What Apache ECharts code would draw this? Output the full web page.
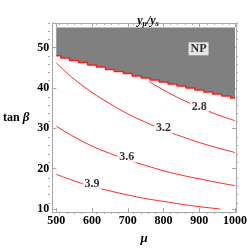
<!DOCTYPE html>
<html>
<head>
<meta charset="utf-8">
<style>html,body{margin:0;padding:0;background:#fff}#c{width:250px;height:250px}</style>
<script src="https://cdn.jsdelivr.net/npm/echarts@6/dist/echarts.min.js"></script>
</head>
<body>
<div id="c"></div>
<script>
// ---- data ----
const xTicks = [500, 600, 700, 800, 900, 1000];
const xMinor = [520,540,560,580,620,640,660,680,720,740,760,780,820,840,860,880,920,940,960,980];
const yTicks = [10, 20, 30, 40, 50];
const yMinor = [12,14,16,18,22,24,26,28,32,34,36,38,42,44,46,48,52,54,56];

// lower edge of the "NP" (no-physical-solution) region
const npX = [500,525,550,575,600,625,650,675,700,725,750,775,800,825,850,875,900,925,950,975,1000];
const npY = [48.0,47.4,46.8,46.3,45.7,45.2,44.6,44.1,43.6,43.0,42.5,42.0,41.5,41.0,40.5,40.0,39.5,39.0,38.5,38.0,37.5];
const npTop = 55;

// contour lines of y_mu / y_s
const c28 = [[760,41.6],[800,39.5],[850,37.2],[900,35.2],[950,33.4],[1000,31.9]];
const c32 = [[500,46.2],[550,42.2],[600,38.9],[650,36.1],[700,33.6],[750,31.5],[800,29.6],[850,28.0],[900,26.5],[950,25.2],[1000,24.0]];
const c36 = [[500,30.5],[550,27.9],[600,25.6],[650,23.8],[700,22.2],[750,20.8],[800,19.5],[850,18.4],[900,17.5],[950,16.6],[1000,15.8]];
const c39 = [[500,18.6],[550,17.0],[600,15.6],[650,14.5],[700,13.5],[750,12.6],[800,11.9],[850,11.2],[900,10.6],[950,10.1],[959,10.0]];

// contour labels: [x, y, text]
const contourLabels = [[900,35.2,'2.8'],[800,30.2,'3.2'],[697,23.0,'3.6'],[600,16.2,'3.9']];
const npLabel = [[898,49.7,'NP']];

// ---- chart ----
const XMIN = 489, XMAX = 1003, YMIN = 9.25, YMAX = 56.1;
const frameColor = '#a8a8a8';
const serif = 'Liberation Serif';
const gridRect = {left: 48, right: 12, top: 23, bottom: 36};

function xAx(gi, pos, ticks, len, withLine, withLabel) {
  return {
    type: 'value', gridIndex: gi, position: pos, min: XMIN, max: XMAX,
    axisLine: {show: withLine, lineStyle: {color: frameColor, width: 1}},
    axisTick: {show: true, inside: true, length: len, customValues: ticks, lineStyle: {color: frameColor}},
    axisLabel: withLabel ? {show: true, customValues: ticks, margin: 3, color: '#000',
      formatter: v => String(v),
      fontFamily: serif, fontWeight: 'bold', fontSize: 12} : {show: false},
    splitLine: {show: false}
  };
}
function yAx(gi, pos, ticks, len, withLine, withLabel) {
  return {
    type: 'value', gridIndex: gi, position: pos, min: YMIN, max: YMAX,
    axisLine: {show: withLine, lineStyle: {color: frameColor, width: 1}},
    axisTick: {show: true, inside: true, length: len, customValues: ticks, lineStyle: {color: frameColor}},
    axisLabel: withLabel ? {show: true, customValues: ticks, margin: 3, color: '#000',
      formatter: v => String(v),
      fontFamily: serif, fontWeight: 'bold', fontSize: 12} : {show: false},
    splitLine: {show: false}
  };
}

const xAxes = [
  Object.assign(xAx(0, 'bottom', xTicks, 4, true, true), {
    name: 'μ', nameLocation: 'middle', nameGap: 16,
    nameTextStyle: {fontFamily: serif, fontStyle: 'italic', fontWeight: 'bold', fontSize: 13, color: '#000'}
  }),
  xAx(0, 'top', xTicks, 4, true, false),
  xAx(1, 'bottom', xMinor, 2, false, false),
  xAx(1, 'top', xMinor, 2, false, false)
];
const yAxes = [
  Object.assign(yAx(0, 'left', yTicks, 4, true, true), {
    name: '{a|tan }{b|β}', nameLocation: 'middle', nameGap: 23, nameRotate: 0,
    nameTextStyle: {rich: {
      a: {fontFamily: serif, fontWeight: 'bold', fontSize: 12, color: '#000'},
      b: {fontFamily: serif, fontWeight: 'bold', fontStyle: 'italic', fontSize: 13, color: '#000'}
    }}
  }),
  yAx(0, 'right', yTicks, 4, true, false),
  yAx(1, 'left', yMinor, 2, false, false),
  yAx(1, 'right', yMinor, 2, false, false)
];

function contour(data) {
  return {type: 'line', data: data, symbol: 'none', smooth: 0.4, silent: true,
    lineStyle: {color: '#ff2a2a', width: 1}, z: 3};
}

const option = {
  animation: false,
  backgroundColor: '#fff',
  title: {
    text: '{a|y}{s|μ}{a|/y}{s|s}', left: 143, top: 9, textAlign: 'center',
    textStyle: {rich: {
      a: {fontFamily: serif, fontStyle: 'italic', fontWeight: 'bold', fontSize: 12, lineHeight: 14, color: '#000'},
      s: {fontFamily: serif, fontStyle: 'italic', fontWeight: 'bold', fontSize: 8, lineHeight: 8, padding: [6, 0, 0, 0], color: '#000'}
    }}
  },
  grid: [Object.assign({}, gridRect), Object.assign({}, gridRect)],
  xAxis: xAxes,
  yAxis: yAxes,
  series: [
    {
      type: 'line', data: npX.map((x, i) => [x, npY[i]]), step: 'middle', symbol: 'none', silent: true,
      lineStyle: {color: '#ff1a1a', width: 1.5},
      areaStyle: {color: '#808080', opacity: 1, origin: npTop}, z: 2
    },
    contour(c28), contour(c32), contour(c36), contour(c39),
    {
      type: 'scatter', data: contourLabels, symbolSize: 0, silent: true, z: 5,
      label: {show: true, position: 'inside', formatter: p => p.data[2], color: '#000',
        fontFamily: serif, fontWeight: 'bold', fontSize: 12, backgroundColor: '#fff', padding: [0, 2]}
    },
    {
      type: 'scatter', data: npLabel, symbolSize: 0, silent: true, z: 5,
      label: {show: true, position: 'inside', formatter: p => p.data[2], color: '#000',
        fontFamily: serif, fontWeight: 'bold', fontSize: 12, backgroundColor: '#fff', padding: [1, 2, 0, 2]}
    }
  ]
};

const chart = echarts.init(document.getElementById('c'), null, {renderer: 'canvas'});
chart.setOption(option);
</script>
</body>
</html>
